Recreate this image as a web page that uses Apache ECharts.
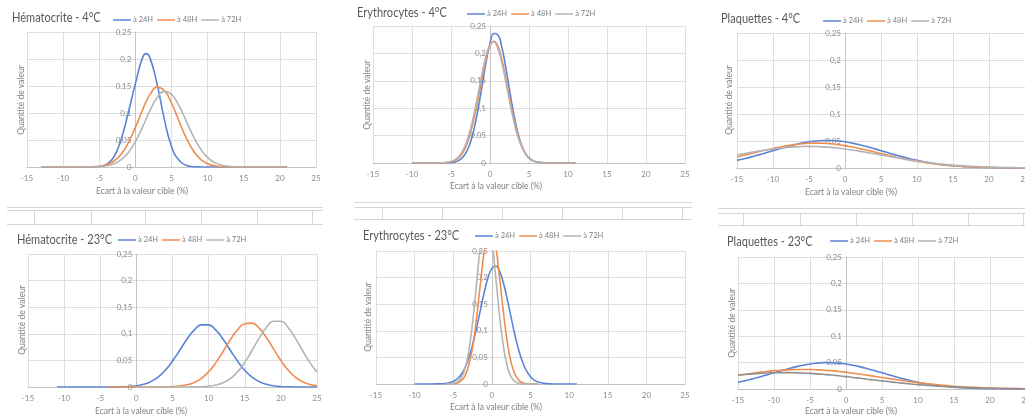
<!DOCTYPE html>
<html><head><meta charset="utf-8">
<script src="https://cdn.jsdelivr.net/npm/echarts@6/dist/echarts.min.js"></script>
<style>html,body{margin:0;padding:0;background:#fff}#c{width:1025px;height:416px}</style>
</head><body><div id="c"></div>
<script>
// ---------- DATA ----------
const seriesNames = ['à 24H', 'à 48H', 'à 72H'];
const panelTitles = ['Hématocrite - 4°C', 'Erythrocytes - 4°C', 'Plaquettes - 4°C',
                     'Hématocrite - 23°C', 'Erythrocytes - 23°C', 'Plaquettes - 23°C'];
const xAxisTitle = 'Ecart à la valeur cible (%)';
const yAxisTitle = 'Quantité de valeur';
const xTicks = [-15, 25, 5];      // min, max, step
const yTicks = [0, 0.25, 0.05];   // min, max, step

// Hématocrite 4°C
const hema4_x   = [-13,-10,-8,-7,-6,-5,-4,-3,-2,-1,0,1,1.5,2,3,4,5,6,7,8,9,10,11,12,13,14,15,17,19,21];
const hema4_24h = [0,0,0,0,0.0001,0.0008,0.005,0.018,0.05,0.1,0.154,0.203,0.21,0.203,0.154,0.089,0.038,0.0128,0.0032,0.0006,0.0001,0,0,0,0,0,0,0,0,0];
const hema4_48h = [0,0,0,0.0001,0.0005,0.0015,0.0042,0.0106,0.0232,0.044,0.0733,0.106,0.1214,0.134,0.148,0.1417,0.1185,0.0864,0.055,0.0305,0.0147,0.0062,0.0023,0.0007,0.0002,0.0001,0,0,0,0];
const hema4_72h = [0,0,0,0,0.0002,0.0008,0.0022,0.0057,0.013,0.0264,0.0471,0.0744,0.0893,0.104,0.128,0.14,0.1346,0.1146,0.0863,0.0575,0.0338,0.0175,0.0081,0.0033,0.0012,0.0004,0.0001,0,0,0];

// Erythrocytes 4°C
const ery4_x   = [-10,-7,-6,-5,-4.5,-4,-3.5,-3,-2.5,-2,-1.5,-1,-0.5,0,0.5,1,1.5,2,2.5,3,3.5,4,4.5,5,5.5,6,7,8,11];
const ery4_24h = [0,0,0.0001,0.0007,0.0019,0.0047,0.0103,0.0208,0.0385,0.065,0.1006,0.1423,0.1842,0.2181,0.2363,0.2342,0.2124,0.1762,0.1337,0.0929,0.059,0.0342,0.0182,0.0089,0.0039,0.0016,0.0002,0,0];
const ery4_48h = [0,0,0.0003,0.0021,0.0046,0.0097,0.0186,0.0334,0.0551,0.0844,0.1195,0.1567,0.1902,0.2136,0.222,0.2136,0.1902,0.1567,0.1195,0.0844,0.0551,0.0334,0.0186,0.0097,0.0046,0.0021,0.0003,0,0];
const ery4_72h = [0,0,0.0005,0.0027,0.0059,0.0119,0.0222,0.0385,0.0621,0.0926,0.1281,0.1644,0.1956,0.2157,0.2207,0.2093,0.1841,0.15,0.1135,0.0796,0.0517,0.0312,0.0175,0.0091,0.0043,0.0019,0.0003,0,0];

// Plaquettes 4°C
const plq4_x   = [-15,-14,-13,-12,-11,-10,-9,-8,-7,-6,-5,-4,-3,-2,-1,0,1,2,3,4,5,6,7,8,9,10,11,12,13,14,15,16,17,18,19,20,21,22,23,24,25];
const plq4_24h = [0.0141,0.0172,0.0206,0.0243,0.0282,0.0321,0.036,0.0398,0.0432,0.0461,0.0485,0.0501,0.051,0.051,0.0501,0.0485,0.0461,0.0432,0.0398,0.036,0.0321,0.0282,0.0243,0.0206,0.0172,0.0141,0.0114,0.0091,0.0071,0.0054,0.0041,0.0031,0.0022,0.0016,0.0011,0.0008,0.0005,0.0004,0.0002,0.0002,0.0001];
const plq4_48h = [0.0205,0.0236,0.0268,0.03,0.0332,0.0362,0.0389,0.0414,0.0433,0.0448,0.0457,0.046,0.0457,0.0448,0.0433,0.0414,0.0389,0.0362,0.0332,0.03,0.0268,0.0236,0.0205,0.0176,0.0149,0.0124,0.0103,0.0083,0.0067,0.0053,0.0041,0.0032,0.0024,0.0018,0.0014,0.001,0.0007,0.0005,0.0004,0.0003,0.0002];
const plq4_72h = [0.0242,0.0266,0.029,0.0313,0.0334,0.0353,0.0369,0.0382,0.0392,0.0398,0.04,0.0398,0.0392,0.0382,0.0369,0.0353,0.0334,0.0313,0.029,0.0266,0.0242,0.0218,0.0194,0.0171,0.0149,0.0129,0.011,0.0094,0.0079,0.0065,0.0054,0.0044,0.0035,0.0028,0.0022,0.0017,0.0013,0.001,0.0008,0.0006,0.0004];

// Hématocrite 23°C
const hema23_x   = [-11,-10,-9,-8,-7,-6,-5,-4,-3,-2,-1,0,1,2,3,4,5,6,7,8,9,10,11,12,13,14,15,16,17,18,19,20,21,22,23,24,25];
const hema23_24h = [0,0,0,0,0,0,0,0,0.0001,0.0004,0.0009,0.0023,0.005,0.0101,0.0186,0.0314,0.0487,0.069,0.0898,0.1069,0.1167,0.1167,0.1069,0.0898,0.069,0.0487,0.0314,0.0186,0.0101,0.005,0.0023,0.0009,0.0004,0.0001,0,0,0];
const hema23_48h = [null,null,null,null,null,null,null,0,0,0,0,0,0,0,0.0001,0.0003,0.0007,0.0018,0.0041,0.0086,0.0164,0.0287,0.0458,0.0668,0.0887,0.1076,0.119,0.1201,0.1106,0.0929,0.0712,0.0498,0.0318,0.0185,0.0098,0.0048,0.0021];
const hema23_72h = [null,null,null,null,null,null,null,null,null,null,null,0,0,0,0,0,0,0,0.0001,0.0002,0.0006,0.0015,0.0036,0.0079,0.0158,0.0284,0.0463,0.0686,0.092,0.112,0.1235,0.1235,0.112,0.092,0.0686,0.0463,0.0284];

// Erythrocytes 23°C
const ery23_x   = [-10,-8,-7,-6,-5,-4.5,-4,-3.5,-3,-2.5,-2,-1.5,-1,-0.5,0,0.5,1,1.5,2,2.5,3,3.5,4,4.5,5,5.5,6,7,8,11];
const ery23_24h = [0,0,0.0002,0.001,0.0048,0.0094,0.0174,0.03,0.0485,0.0734,0.104,0.138,0.1715,0.1996,0.2174,0.2218,0.2117,0.1893,0.1585,0.1243,0.0912,0.0627,0.0403,0.0243,0.0137,0.0073,0.0036,0.0007,0.0001,0];
const ery23_48h = [null,null,null,0,0.0005,0.0019,0.0056,0.0149,0.0345,0.0694,0.1217,0.1862,0.2483,0.2888,0.2927,0.2588,0.1994,0.134,0.0785,0.04,0.0178,0.0069,0.0023,0.0007,0.0002,0,0,null,null,null];
const ery23_72h = [null,null,null,0.0001,0.001,0.0036,0.0108,0.0277,0.061,0.1151,0.186,0.2575,0.3054,0.3101,0.2698,0.201,0.1283,0.0702,0.0329,0.0132,0.0045,0.0013,0.0003,0,0,0,0,null,null,null];

// Plaquettes 23°C
const plq23_x   = [-15,-14,-13,-12,-11,-10,-9,-8,-7,-6,-5,-4,-3,-2,-1,0,1,2,3,4,5,6,7,8,9,10,11,12,13,14,15,16,17,18,19,20,21,22,23,24,25];
const plq23_24h = [0.0129,0.0158,0.0192,0.0228,0.0267,0.0307,0.0346,0.0384,0.0419,0.0449,0.0474,0.049,0.0499,0.0499,0.049,0.0474,0.0449,0.0419,0.0384,0.0346,0.0307,0.0267,0.0228,0.0192,0.0158,0.0129,0.0102,0.008,0.0062,0.0047,0.0035,0.0026,0.0018,0.0013,0.0009,0.0006,0.0004,0.0003,0.0002,0.0001,0.0001];
const plq23_48h = [0.0259,0.0279,0.0298,0.0316,0.0332,0.0345,0.0356,0.0363,0.0368,0.037,0.0368,0.0363,0.0356,0.0345,0.0332,0.0316,0.0298,0.0279,0.0259,0.0239,0.0218,0.0197,0.0176,0.0157,0.0138,0.012,0.0104,0.0089,0.0076,0.0064,0.0053,0.0044,0.0036,0.003,0.0024,0.0019,0.0015,0.0012,0.0009,0.0007,0.0006];
const plq23_72h = [0.0264,0.0276,0.0287,0.0296,0.0303,0.0307,0.031,0.031,0.0307,0.0303,0.0296,0.0287,0.0276,0.0264,0.025,0.0235,0.0219,0.0203,0.0186,0.017,0.0154,0.0138,0.0123,0.0109,0.0095,0.0083,0.0072,0.0062,0.0052,0.0044,0.0037,0.0031,0.0025,0.0021,0.0017,0.0014,0.0011,0.0009,0.0007,0.0006,0.0005];

const panelData = [
  [hema4_x,  [hema4_24h,  hema4_48h,  hema4_72h]],
  [ery4_x,   [ery4_24h,   ery4_48h,   ery4_72h]],
  [plq4_x,   [plq4_24h,   plq4_48h,   plq4_72h]],
  [hema23_x, [hema23_24h, hema23_48h, hema23_72h]],
  [ery23_x,  [ery23_24h,  ery23_48h,  ery23_72h]],
  [plq23_x,  [plq23_24h,  plq23_48h,  plq23_72h]]
];

// ---------- LAYOUT / STYLE ----------
const FONT = 'Lato, "Liberation Sans", sans-serif';
const COLORS = ['#5b84d6', '#f08c4e', '#b4b4b4'];
const layout = [
  {grid:[27,32,289,135],  title:[12,18],  legend:[113,16],  xName:[142,191], yName:[21,100]},
  {grid:[373,26,312,137], title:[357,13], legend:[467,10],  xName:[496,186], yName:[367,95]},
  {grid:[737,33,288,135], title:[721,19], legend:[823,17],  xName:[851,192], yName:[729,100]},
  {grid:[28,254,289,133], title:[17,240], legend:[118,236], xName:[141,411], yName:[22,320]},
  {grid:[376,251,309,133],title:[363,236],legend:[475,232], xName:[496,407], yName:[368,317]},
  {grid:[738,257,288,132],title:[727,242],legend:[830,237], xName:[851,411], yName:[732,323]}
];
const gray72 = ['#b4b4b4','#b4b4b4','#b4b4b4','#b4b4b4','#b4b4b4','#909090'];

// spreadsheet cell lines between the two rows
const cellRows = [
  {hy:[207,210,224], x1:7,   x2:323,  vx:[34,91,145,201,257,312],    vy:[210,224]},
  {hy:[202,207,219], x1:354, x2:692,  vx:[382,442,502,562,622,682],  vy:[207,219]},
  {hy:[208,213,225], x1:718, x2:1025, vx:[743,800,856,912,968,1023], vy:[213,225]}
];

const grids = [], xAxes = [], yAxes = [], series = [], legends = [], graphics = [];
const tickColor = '#8c8c8c', nameColor = '#7f7f7f';

layout.forEach((L, p) => {
  const w = L.grid[2];
  const zeroOffset = w * (0 - xTicks[0]) / (xTicks[1] - xTicks[0]);
  grids.push({left:L.grid[0], top:L.grid[1], width:w, height:L.grid[3],
              containLabel:false, outerBoundsMode:'none'});
  xAxes.push({type:'value', gridIndex:p, min:xTicks[0], max:xTicks[1], interval:xTicks[2],
    axisLine:{show:true, onZero:false, lineStyle:{color:'#c4c4c4', width:1}},
    axisTick:{show:false},
    axisLabel:{fontSize:8, color:tickColor, margin:7, fontFamily:FONT, showMinLabel:true, showMaxLabel:true},
    splitLine:{show:true, lineStyle:{color:'#dedede', width:1}}});
  yAxes.push({type:'value', gridIndex:p, min:yTicks[0], max:yTicks[1], interval:yTicks[2],
    position:'left', offset:-zeroOffset,
    axisLine:{show:true, onZero:false, lineStyle:{color:'#c4c4c4', width:1}},
    axisTick:{show:false},
    axisLabel:{fontSize:8, color:tickColor, margin:4, fontFamily:FONT,
               formatter: v => String(+v.toFixed(2)).replace('.', ',')},
    splitLine:{show:true, lineStyle:{color:'#dedede', width:1}}});
  legends.push({left:L.legend[0], top:L.legend[1], padding:0, data:seriesNames,
    icon:'rect', itemWidth:18, itemHeight:1.5, itemGap:4,
    textStyle:{fontSize:7.5, color:nameColor, fontFamily:FONT, padding:[0,0,0,-3]}});
  const [xs, ys3] = panelData[p];
  ys3.forEach((ys, s) => {
    const col = s === 2 ? gray72[p] : COLORS[s];
    series.push({type:'line', name:seriesNames[s], xAxisIndex:p, yAxisIndex:p,
      data: xs.map((x, i) => [x, ys[i]]).filter(d => d[1] !== null),
      symbol:'none', showSymbol:false, smooth:0.5, clip:true,
      lineStyle:{color:col, width:1.6}, itemStyle:{color:col}, emphasis:{disabled:true}});
  });
  // chart title (slightly condensed to mimic the original narrow font)
  graphics.push({type:'text', x:L.title[0], y:L.title[1], scaleX:0.85, scaleY:1,
    style:{text:panelTitles[p], fill:'#595959', font:'13px ' + FONT, align:'left', verticalAlign:'middle',
           textAlign:'left', textVerticalAlign:'middle'}});
  graphics.push({type:'text', x:L.xName[0], y:L.xName[1],
    style:{text:xAxisTitle, fill:nameColor, font:'8.5px ' + FONT, align:'center', verticalAlign:'middle',
           textAlign:'center', textVerticalAlign:'middle'}});
  graphics.push({type:'text', x:L.yName[0], y:L.yName[1], rotation:Math.PI/2,
    style:{text:yAxisTitle, fill:nameColor, font:'8.5px ' + FONT, align:'center', verticalAlign:'middle',
           textAlign:'center', textVerticalAlign:'middle'}});
});

cellRows.forEach(r => {
  r.hy.forEach(y => graphics.push({type:'line', shape:{x1:r.x1, y1:y+0.5, x2:r.x2, y2:y+0.5},
    style:{stroke:'#d6d6d6', lineWidth:1}}));
  r.vx.forEach(x => graphics.push({type:'line', shape:{x1:x+0.5, y1:r.vy[0], x2:x+0.5, y2:r.vy[1]},
    style:{stroke:'#d6d6d6', lineWidth:1}}));
});

const chart = echarts.init(document.getElementById('c'), null, {renderer:'canvas'});
chart.setOption({
  animation:false, backgroundColor:'#ffffff',
  legend:legends, grid:grids, xAxis:xAxes, yAxis:yAxes, series:series, graphic:graphics
});
</script></body></html>
